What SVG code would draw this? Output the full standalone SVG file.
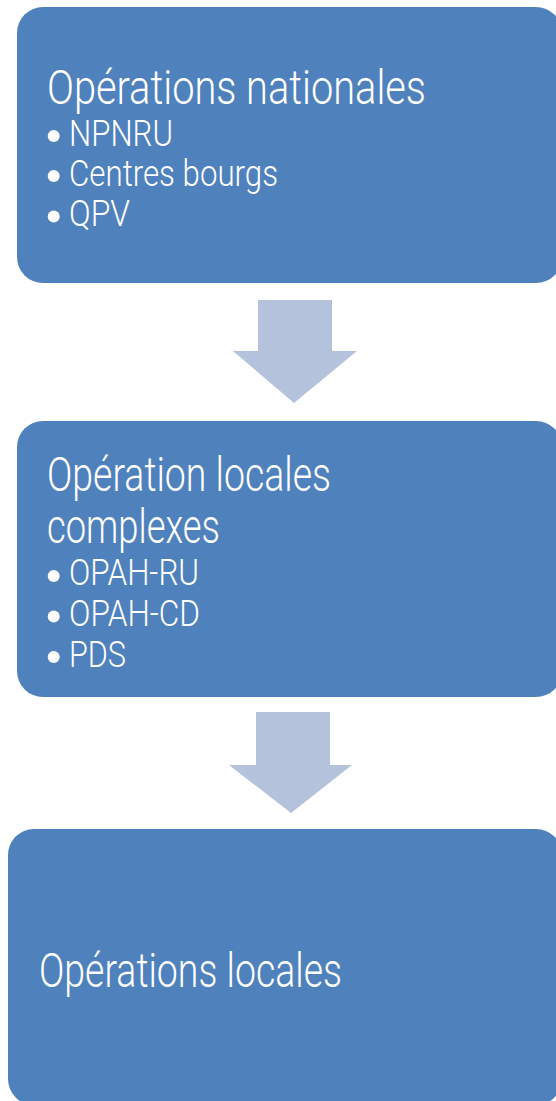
<svg xmlns="http://www.w3.org/2000/svg" width="556" height="1101" viewBox="0 0 556 1101">
<style>
.box{fill:#4F81BD;}
.arrow{fill:#B4C2DC;}
.t{fill:#FFFFFF;font-family:Roboto,"Liberation Sans",Arial,sans-serif;font-weight:300;}
.h{font-size:48px;}
.b{font-size:36px;}
.dot{fill:#FFFFFF;}
</style>
<rect width="556" height="1101" fill="#FFFFFF"/>
<g id="connectors">
<polygon class="arrow" points="258,300 332,300 332,351 357,351 294,403 233,351 258,351"/>
<polygon class="arrow" points="256,712 330,712 330,765 352,765 291,813 229,765 256,765"/>
</g>
<g id="node1">
<rect class="box" x="17" y="7" width="545" height="276" rx="26"/>
<text class="t h" x="47" y="104" textLength="379" lengthAdjust="spacingAndGlyphs">Opérations nationales</text>
<circle class="dot" cx="53.7" cy="136" r="6"/>
<text class="t b" x="69" y="145.5" textLength="104" lengthAdjust="spacingAndGlyphs">NPNRU</text>
<circle class="dot" cx="53.7" cy="176" r="6"/>
<text class="t b" x="69" y="185.5" textLength="209" lengthAdjust="spacingAndGlyphs">Centres bourgs</text>
<circle class="dot" cx="53.7" cy="216.5" r="6"/>
<text class="t b" x="69" y="226" textLength="61" lengthAdjust="spacingAndGlyphs">QPV</text>
</g>
<g id="node2">
<rect class="box" x="17" y="421" width="545" height="276" rx="26"/>
<text class="t h" x="47" y="491" textLength="284" lengthAdjust="spacingAndGlyphs">Opération locales</text>
<text class="t h" x="47" y="543" textLength="173" lengthAdjust="spacingAndGlyphs">complexes</text>
<circle class="dot" cx="53.7" cy="576" r="6"/>
<text class="t b" x="69" y="585" textLength="130" lengthAdjust="spacingAndGlyphs">OPAH-RU</text>
<circle class="dot" cx="53.7" cy="616.5" r="6"/>
<text class="t b" x="69" y="626" textLength="131" lengthAdjust="spacingAndGlyphs">OPAH-CD</text>
<circle class="dot" cx="53.7" cy="657" r="6"/>
<text class="t b" x="69" y="666.5" textLength="57" lengthAdjust="spacingAndGlyphs">PDS</text>
</g>
<g id="node3">
<rect class="box" x="8" y="829" width="554" height="276" rx="26"/>
<text class="t h" x="39" y="987" textLength="303" lengthAdjust="spacingAndGlyphs">Opérations locales</text>
</g>
</svg>
